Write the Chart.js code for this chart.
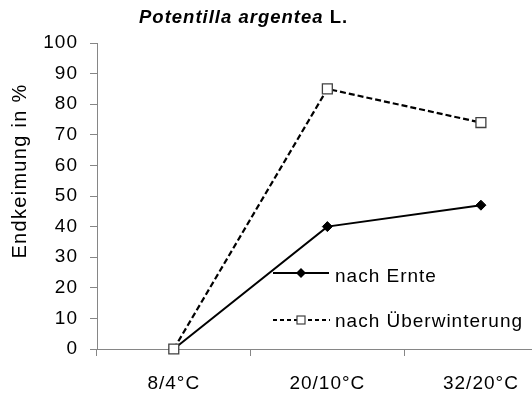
<!DOCTYPE html>
<html>
<head>
<meta charset="utf-8">
<script src="https://cdn.jsdelivr.net/npm/chart.js@4.4.1/dist/chart.umd.min.js"></script>
<style>
  html, body { margin: 0; padding: 0; background: #fff; overflow: hidden; }
  #wrap { width: 532px; height: 397px; overflow: hidden; }
  canvas { display: block; }
</style>
</head>
<body>
<div id="wrap"><canvas id="chart" width="566" height="397"></canvas></div>
<script>
// Data
const categories = ['8/4°C', '20/10°C', '32/20°C'];
const nachErnte = [0, 40, 47];
const nachUeberwinterung = [0, 85, 74];
const yMin = 0;
const yMax = 100;
const yStep = 10;

const axisColor = '#868686';
const fontFamily = '"Liberation Sans", Arial, sans-serif';

// Wider text like the reference (GDI style rendering)
const spacingPlugin = {
    id: 'spacing',
    beforeLayout(chart) { chart.ctx.letterSpacing = '1px'; },
    beforeDraw(chart) { chart.ctx.letterSpacing = '1px'; }
};

// Title, y-axis title and legend inside plot
const decorPlugin = {
    id: 'decor',
    afterDraw(chart) {
        const ctx = chart.ctx;
        ctx.save();
        ctx.letterSpacing = '1px';
        ctx.fillStyle = '#000';
        ctx.textBaseline = 'alphabetic';
        ctx.textAlign = 'left';

        // Title
        const part1 = 'Potentilla argentea ';
        ctx.font = `italic bold 18.5px ${fontFamily}`;
        ctx.fillText(part1, 139, 23);
        const w = ctx.measureText(part1).width;
        ctx.font = `bold 18.5px ${fontFamily}`;
        ctx.fillText('L.', 139 + w, 23);

        // Y axis title
        ctx.save();
        ctx.letterSpacing = '1.3px';
        ctx.font = `20px ${fontFamily}`;
        ctx.translate(26, 171);
        ctx.rotate(-Math.PI / 2);
        ctx.textAlign = 'center';
        ctx.fillText('Endkeimung in %', 0, 0);
        ctx.restore();

        // Legend
        ctx.font = `19px ${fontFamily}`;
        ctx.strokeStyle = '#000';
        ctx.lineWidth = 2;
        ctx.beginPath();
        ctx.moveTo(273, 273);
        ctx.lineTo(329, 273);
        ctx.stroke();
        ctx.fillStyle = '#000';
        ctx.beginPath();
        ctx.moveTo(296, 273);
        ctx.lineTo(301, 268);
        ctx.lineTo(306, 273);
        ctx.lineTo(301, 278);
        ctx.closePath();
        ctx.fill();
        ctx.fillText('nach Ernte', 335, 282);

        ctx.setLineDash([4, 3]);
        ctx.beginPath();
        ctx.moveTo(273, 320);
        ctx.lineTo(330, 320);
        ctx.stroke();
        ctx.setLineDash([]);
        ctx.fillStyle = '#fff';
        ctx.fillRect(297, 316, 8, 8);
        ctx.strokeStyle = '#404040';
        ctx.lineWidth = 1.2;
        ctx.strokeRect(297, 316, 8, 8);
        ctx.fillStyle = '#000';
        ctx.fillText('nach Überwinterung', 335, 327);
        ctx.restore();
    }
};

new Chart(document.getElementById('chart'), {
    type: 'line',
    data: {
        labels: categories,
        datasets: [
            {
                label: 'nach Ernte',
                data: nachErnte,
                borderColor: '#000',
                borderWidth: 2,
                pointStyle: 'rectRot',
                pointRadius: 5,
                pointBackgroundColor: '#000',
                pointBorderColor: '#000',
                pointBorderWidth: 1,
                tension: 0,
                clip: false,
                order: 1
            },
            {
                label: 'nach Überwinterung',
                data: nachUeberwinterung,
                borderColor: '#000',
                borderWidth: 2.2,
                borderDash: [6, 3],
                pointStyle: 'rect',
                pointRadius: 7,
                pointBackgroundColor: '#fff',
                pointBorderColor: '#404040',
                pointBorderWidth: 1.3,
                tension: 0,
                clip: false,
                order: 0
            }
        ]
    },
    options: {
        responsive: false,
        animation: false,
        devicePixelRatio: 1,
        layout: { padding: { top: 43, right: 4, left: 0, bottom: 0 } },
        plugins: {
            legend: { display: false },
            title: { display: false },
            tooltip: { enabled: false }
        },
        scales: {
            x: {
                offset: true,
                grid: {
                    offset: true,
                    drawOnChartArea: false,
                    drawTicks: true,
                    tickLength: 7,
                    color: axisColor
                },
                border: { color: axisColor, width: 1 },
                ticks: {
                    color: '#000',
                    padding: 16,
                    maxRotation: 0,
                    font: { family: fontFamily, size: 19 }
                },
                afterFit(scale) { scale.height = 48; }
            },
            y: {
                min: yMin,
                max: yMax,
                ticks: {
                    stepSize: yStep,
                    color: '#000',
                    padding: 12,
                    font: { family: fontFamily, size: 19 }
                },
                grid: {
                    drawOnChartArea: false,
                    drawTicks: true,
                    tickLength: 7,
                    color: axisColor
                },
                border: { color: axisColor, width: 1 },
                afterFit(scale) { scale.width = 97; }
            }
        }
    },
    plugins: [spacingPlugin, decorPlugin]
});
</script>
</body>
</html>
